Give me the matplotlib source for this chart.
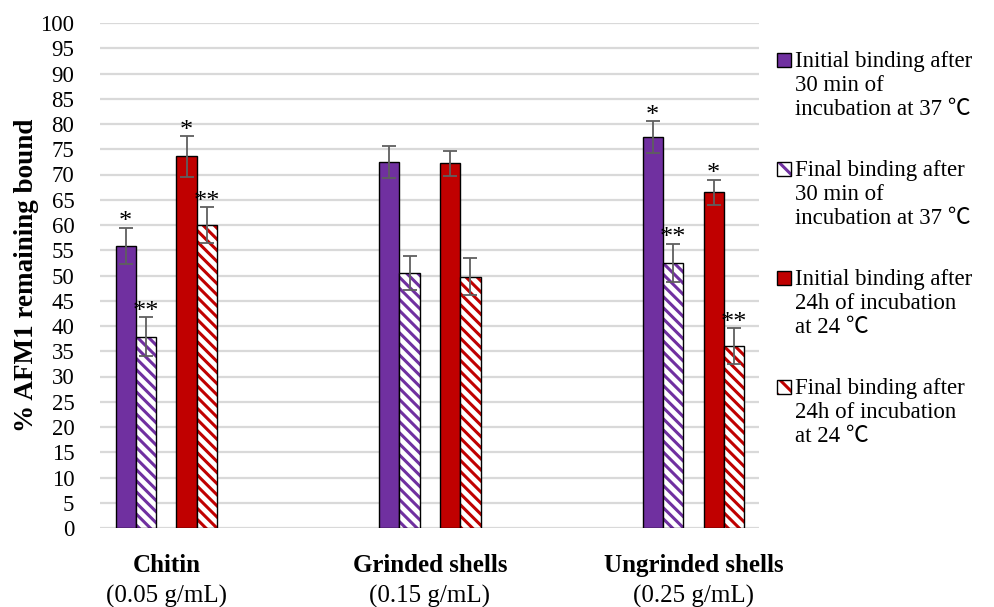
import matplotlib
matplotlib.use("Agg")
import matplotlib.pyplot as plt
import matplotlib.transforms as mtransforms
from matplotlib.patches import Rectangle
import numpy as np

plt.rcParams['font.family'] = ['Liberation Serif', 'Noto Sans CJK SC', 'DejaVu Sans']
plt.rcParams['hatch.linewidth'] = 2.2

# data
categories = ["Chitin", "Grinded shells", "Ungrinded shells"]
concentrations = ["(0.05 g/mL)", "(0.15 g/mL)", "(0.25 g/mL)"]
series_labels = [
    "Initial binding after\n30 min of\nincubation at 37 \u2103",
    "Final binding after\n30 min of\nincubation at 37 \u2103",
    "Initial binding after\n24h of incubation\nat 24 \u2103",
    "Final binding after\n24h of incubation\nat 24 \u2103",
]
initial_30 = [55.9, 72.5, 77.4]
initial_30_err = [3.6, 3.1, 3.1]
final_30 = [37.9, 50.5, 52.5]
final_30_err = [3.8, 3.3, 3.8]
initial_24 = [73.6, 72.2, 66.5]
initial_24_err = [4.0, 2.5, 2.5]
final_24 = [60.0, 49.8, 36.0]
final_24_err = [3.5, 3.6, 3.6]
marks_initial = ["*", "", "*"]
marks_final = ["**", "", "**"]

purple = "#7030A0"
red = "#C00000"
HATCH = chr(92) * 3  # backslash stripes

series = [
    (initial_30, initial_30_err, purple, False, marks_initial),
    (final_30, final_30_err, purple, True, marks_final),
    (initial_24, initial_24_err, red, False, marks_initial),
    (final_24, final_24_err, red, True, marks_final),
]

fig = plt.figure(figsize=(9.95, 6.07), dpi=100)
ax = fig.add_axes([100 / 995, 1 - 528 / 607, 659 / 995, 505 / 607])

x = np.arange(len(categories))
w = 0.077
offsets = [-2 * w, -w, w, 2 * w]

for (vals, errs, color, hatched, marks), off in zip(series, offsets):
    xs = x + off
    if hatched:
        ax.bar(xs, vals, w, color="white", edgecolor=color, hatch=HATCH, linewidth=0, zorder=2)
        ax.bar(xs, vals, w, fill=False, edgecolor="black", linewidth=1.0, zorder=2)
    else:
        ax.bar(xs, vals, w, color=color, edgecolor="black", linewidth=1.0, zorder=2)
    ax.errorbar(xs, vals, yerr=errs, fmt="none", ecolor="#5f5f5f", elinewidth=1.3,
                capsize=5, capthick=1.3, zorder=3)
    for xi, v, e, m in zip(xs, vals, errs, marks):
        if m:
            ax.annotate(m, (xi, v + e), xytext=(0, -4), textcoords="offset points",
                        ha="center", va="bottom", fontsize=19)

ax.set_xlim(-0.2514, 2.249)
ax.set_ylim(0, 100)
ax.set_yticks(np.arange(0, 101, 5))
ax.set_xticks([])
ax.tick_params(axis="y", length=0, pad=18.5, labelsize=16.5)
ax.yaxis.grid(True, color="#d9d9d9", linewidth=1.6, zorder=0)
ax.set_axisbelow(True)
for s in ax.spines.values():
    s.set_visible(False)

# category labels under the groups
trans = mtransforms.blended_transform_factory(ax.transData, fig.transFigure)
for xi, cat, conc in zip(x, categories, concentrations):
    ax.text(xi, 1 - 572 / 607, cat, transform=trans, ha="center", va="baseline",
            fontsize=18, fontweight="bold")
    ax.text(xi, 1 - 603 / 607, conc, transform=trans, ha="center", va="baseline",
            fontsize=18)

fig.text(27 / 995, 1 - 275.5 / 607, "% AFM1 remaining bound", rotation=90,
         ha="center", va="center", fontsize=19.5, fontweight="bold")

# legend, built by hand so the marker sits on the first line
for k, ((vals, errs, color, hatched, marks), label) in enumerate(zip(series, series_labels)):
    base = 67 + k * 109
    rect_kw = dict(transform=fig.transFigure)
    if hatched:
        fig.add_artist(Rectangle((777 / 995, 1 - base / 607), 14 / 995, 14 / 607,
                                 facecolor="white", edgecolor=color, hatch=chr(92) * 2, linewidth=0, **rect_kw))
        fig.add_artist(Rectangle((777 / 995, 1 - base / 607), 14 / 995, 14 / 607,
                                 fill=False, edgecolor="black", linewidth=1.0, **rect_kw))
    else:
        fig.add_artist(Rectangle((777 / 995, 1 - base / 607), 14 / 995, 14 / 607,
                                 facecolor=color, edgecolor="black", linewidth=1.0, **rect_kw))
    fig.text(795 / 995, 1 - (base - 16) / 607, label, ha="left", va="top", fontsize=16.5)

fig.savefig("out.png", dpi=100)
